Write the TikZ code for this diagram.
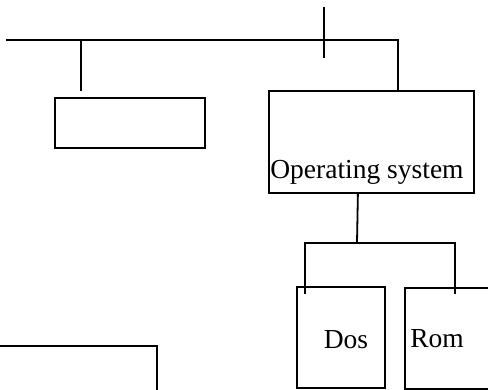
\documentclass[tikz,border=0pt]{standalone}
\usepackage{fontspec}
\setmainfont{Liberation Serif}
\usetikzlibrary{positioning}

\begin{document}
\begin{tikzpicture}
	[x=1pt,y=-1pt,line width=1.8pt,
		box/.style={draw,rectangle,line width=1.8pt,inner sep=0pt,anchor=north west},
		lbl/.style={font=\fontsize{27.5}{32}\selectfont,inner sep=0pt,anchor=base}]

	\useasboundingbox (0,0) rectangle (488,389);
	\clip (0,0) rectangle (488,389);

	\node[box,minimum width=150pt,minimum height=50pt] (A) at (54,97) {};
	\node[box,minimum width=205pt,minimum height=102pt] (OS) at (268,90) {};
	\node[box,minimum width=88pt,minimum height=101pt] (Dos) at (296,286) {};
	\node[box,minimum width=120pt,minimum height=101pt] (Rom) at (404,287) {};
	\node[box,minimum width=176pt,minimum height=80pt] (B) at (-20,345) {};

	\node[lbl] (OStext) at (367,178) {Operating system};
	\node[lbl] (Dostext) at (346,348) {Dos};
	\node[lbl] (Romtext) at (437,347) {Rom};

	\coordinate (bus) at (6,40);
	\coordinate (drop) at (81,40);
	\coordinate (dropend) at (81,90.5);
	\coordinate (tick top) at (324,7);
	\coordinate (tick bot) at (324,58);
	\coordinate (fork) at (357,243);
	\coordinate (Dos in) at ([xshift=9pt,yshift=-8pt]Dos.north west);
	\coordinate (Rom in) at ([xshift=51pt,yshift=-7pt]Rom.north west);

	\draw (bus) -| ([xshift=130pt]OS.north west);
	\draw (drop) -- (dropend);
	\draw (tick top) -- (tick bot);
	% OS to Dos and Rom
	\draw ([xshift=-13.5pt]OS.south) -- (fork);
	\draw (Dos in) |- (fork) -| (Rom in);
\end{tikzpicture}
\end{document}
